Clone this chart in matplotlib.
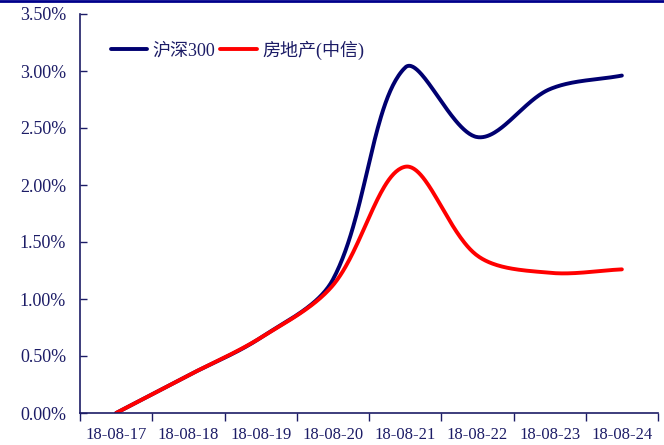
import numpy as np
import matplotlib
matplotlib.use('Agg')
import matplotlib.pyplot as plt
from matplotlib.lines import Line2D
from matplotlib.ticker import FuncFormatter

plt.rcParams['font.family'] = ['Liberation Serif', 'Noto Sans CJK SC']

# dados (retorno acumulado, %)
datas = ['18-08-17', '18-08-18', '18-08-19', '18-08-20',
         '18-08-21', '18-08-22', '18-08-23', '18-08-24']
hs300 = [0.00, 0.33, 0.66, 1.17, 3.03, 2.42, 2.84, 2.96]
imobiliario = [0.00, 0.33, 0.66, 1.12, 2.16, 1.38, 1.23, 1.26]

azul = '#000070'
vermelho = '#FF0000'
cor_texto = '#1C1C66'

# escala aproximada em pixels (para a suavização ficar parecida com a do Excel)
px_x, px_y = 72.0, 114.0


def suavizar(y, n=60, t=1 / 3):
    # Bezier com braços proporcionais ao comprimento das cordas
    pts = np.column_stack([np.arange(len(y)) * px_x, np.asarray(y, float) * px_y])
    m = len(pts)
    ant, dep = [], []
    for i in range(m):
        p0 = pts[max(i - 1, 0)]
        p1 = pts[i]
        p2 = pts[min(i + 1, m - 1)]
        d01 = np.hypot(*(p1 - p0))
        d12 = np.hypot(*(p2 - p1))
        s = d01 + d12 if d01 + d12 > 0 else 1
        ant.append(p1 - t * d01 / s * (p2 - p0))
        dep.append(p1 + t * d12 / s * (p2 - p0))
    xs, ys = [], []
    tt = np.linspace(0, 1, n)[:, None]
    for i in range(m - 1):
        p1, c1, c2, p2 = pts[i], dep[i], ant[i + 1], pts[i + 1]
        b = (1 - tt) ** 3 * p1 + 3 * (1 - tt) ** 2 * tt * c1 + 3 * (1 - tt) * tt ** 2 * c2 + tt ** 3 * p2
        xs.extend(b[:, 0] / px_x)
        ys.extend(b[:, 1] / px_y)
    return np.array(xs), np.array(ys)


fig = plt.figure(figsize=(6.64, 4.45), dpi=100)
ax = fig.add_axes([80 / 664, 32 / 445, 578 / 664, 399 / 445])

x1, y1 = suavizar(hs300)
x2, y2 = suavizar(imobiliario)
ax.plot(x1, y1, color=azul, lw=2.8, label='沪深300', solid_capstyle='round')
ax.plot(x2, y2, color=vermelho, lw=2.8, label='房地产(中信)', solid_capstyle='round')

ax.set_xlim(-0.5, len(datas) - 0.5)
ax.set_ylim(0, 3.5)
ax.set_yticks(np.arange(0, 3.51, 0.5))
ax.yaxis.set_major_formatter(FuncFormatter(lambda v, p: f'{v:.2f}%'))

ax.set_xticks(np.arange(len(datas)))
ax.set_xticklabels(datas)
ax.set_xticks(np.arange(-0.5, len(datas)), minor=True)
ax.tick_params(axis='x', which='major', length=0, pad=10, labelsize=12, labelcolor=cor_texto)
ax.tick_params(axis='x', which='minor', length=6, direction='out', color=cor_texto, width=1)
ax.tick_params(axis='y', length=5, direction='in', color=cor_texto, width=1,
               labelsize=13, labelcolor=cor_texto, pad=10)

for lado in ['top', 'right']:
    ax.spines[lado].set_visible(False)
for lado in ['left', 'bottom']:
    ax.spines[lado].set_color(cor_texto)
    ax.spines[lado].set_linewidth(1.2)

ax.legend(loc='upper left', bbox_to_anchor=(0.025, 0.975), frameon=False, ncol=2,
          fontsize=13, handlelength=2.0, handletextpad=0.3, columnspacing=0.3,
          labelcolor=cor_texto)

fig.add_artist(Line2D([0, 1], [0.998, 0.998], color='#00008B', lw=2, transform=fig.transFigure))

fig.savefig('out.png', dpi=100)
